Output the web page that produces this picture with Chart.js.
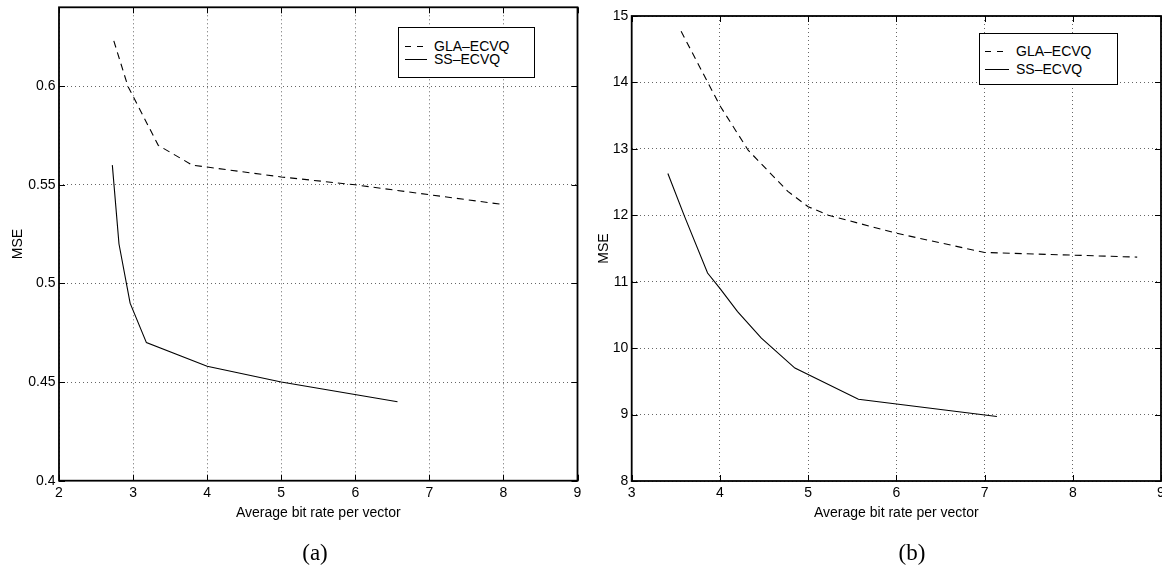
<!DOCTYPE html>
<html>
<head>
<meta charset="utf-8">
<script src="https://cdn.jsdelivr.net/npm/chart.js@4/dist/chart.umd.min.js"></script>
<style>
  body { margin: 0; background: #fff; width: 1162px; height: 568px; overflow: hidden; position: relative; font-family: 'Liberation Sans', Arial, sans-serif; }
  canvas { position: absolute; top: 0; }
  .legend { position: absolute; border: 1.5px solid #000; background: #fff; box-sizing: border-box; font-size: 14px; color: #000; }
  .row { position: absolute; left: 0; right: 0; height: 16px; line-height: 16px; }
  .sample { position: absolute; top: 8px; height: 1px; }
  .dash { background: repeating-linear-gradient(to right, #000 0 6px, transparent 6px 12px); }
  .solid { background: #000; }
  .txt { position: absolute; top: 0; white-space: nowrap; }
  .caption { position: absolute; font-family: 'Liberation Serif', 'DejaVu Serif', serif; font-size: 23px; transform: translate(-50%, -50%); }
</style>
</head>
<body>
<canvas id="chartA" width="590" height="568" style="left:0"></canvas>
<canvas id="chartB" width="582" height="568" style="left:580px"></canvas>

<div class="legend" style="left:398px;top:27px;width:137px;height:51px">
  <div class="row" style="top:10px"><div class="sample dash" style="left:6px;width:22px"></div><span class="txt" style="left:35px">GLA–ECVQ</span></div>
  <div class="row" style="top:23px"><div class="sample solid" style="left:6px;width:22px"></div><span class="txt" style="left:35px">SS–ECVQ</span></div>
</div>
<div class="legend" style="left:979px;top:33px;width:139px;height:52px">
  <div class="row" style="top:9px"><div class="sample dash" style="left:5px;width:24px"></div><span class="txt" style="left:36px">GLA–ECVQ</span></div>
  <div class="row" style="top:27px"><div class="sample solid" style="left:5px;width:24px"></div><span class="txt" style="left:36px">SS–ECVQ</span></div>
</div>

<div class="caption" style="left:315px;top:553px">(a)</div>
<div class="caption" style="left:912px;top:553px">(b)</div>

<script>
// (a) values
const rateA_gla = [2.74, 2.93, 3.34, 3.80, 4.0, 5.0, 6.0, 7.0, 8.0];
const mseA_gla  = [0.623, 0.600, 0.570, 0.560, 0.559, 0.554, 0.550, 0.545, 0.540];
const rateA_ss  = [2.72, 2.81, 2.96, 3.18, 4.0, 5.0, 6.57];
const mseA_ss   = [0.560, 0.520, 0.490, 0.470, 0.458, 0.450, 0.440];
const xTicksA = [2, 3, 4, 5, 6, 7, 8, 9];
const yTicksA = [0.4, 0.45, 0.5, 0.55, 0.6];

// (b) values
const rateB_gla = [3.56, 4.0, 4.32, 4.77, 5.0, 5.23, 6.0, 7.0, 8.0, 8.73];
const mseB_gla  = [14.77, 13.65, 12.98, 12.36, 12.13, 12.0, 11.73, 11.44, 11.40, 11.37];
const rateB_ss  = [3.41, 3.60, 3.86, 4.0, 4.2, 4.47, 4.85, 5.57, 7.14];
const mseB_ss   = [12.63, 11.98, 11.13, 10.90, 10.55, 10.15, 9.70, 9.23, 8.97];
const xTicksB = [3, 4, 5, 6, 7, 8, 9];
const yTicksB = [8, 9, 10, 11, 12, 13, 14, 15];

const FONT = { family: "'Liberation Sans', Arial, sans-serif", size: 14 };

function toPoints(xs, ys) {
  return xs.map((x, i) => ({ x: x, y: ys[i] }));
}

// box around the plot + inward tick marks like matlab
const frame = {
  id: 'frame',
  afterDatasetsDraw(chart) {
    const { ctx, chartArea: a, scales: { x, y } } = chart;
    ctx.save();
    ctx.strokeStyle = '#000';
    ctx.lineWidth = 1;
    ctx.beginPath();
    x.ticks.forEach(t => {
      const p = Math.round(x.getPixelForValue(t.value)) + 0.5;
      ctx.moveTo(p, a.bottom); ctx.lineTo(p, a.bottom - 6);
      ctx.moveTo(p, a.top); ctx.lineTo(p, a.top + 6);
    });
    y.ticks.forEach(t => {
      const p = Math.round(y.getPixelForValue(t.value)) + 0.5;
      ctx.moveTo(a.left, p); ctx.lineTo(a.left + 6, p);
      ctx.moveTo(a.right, p); ctx.lineTo(a.right - 6, p);
    });
    ctx.stroke();
    ctx.lineWidth = 1.8;
    ctx.strokeRect(a.left, a.top, a.right - a.left, a.bottom - a.top);
    ctx.restore();
  }
};

function makeChart(id, c) {
  new Chart(document.getElementById(id), {
    type: 'line',
    data: {
      datasets: [
        { label: 'GLA–ECVQ', data: toPoints(c.glaX, c.glaY), borderColor: '#000', borderWidth: 1.1, borderDash: [7, 5], pointRadius: 0, fill: false, tension: 0 },
        { label: 'SS–ECVQ', data: toPoints(c.ssX, c.ssY), borderColor: '#000', borderWidth: 1.1, pointRadius: 0, fill: false, tension: 0 }
      ]
    },
    options: {
      responsive: false,
      animation: false,
      devicePixelRatio: 1,
      layout: { padding: { top: c.top, right: c.padRight, bottom: 0, left: 0 } },
      plugins: { legend: { display: false }, tooltip: { enabled: false } },
      scales: {
        x: {
          type: 'linear',
          min: c.xTicks[0],
          max: c.xTicks[c.xTicks.length - 1],
          afterBuildTicks: s => { s.ticks = c.xTicks.map(v => ({ value: v })); },
          afterFit: s => { s.paddingLeft = 0; s.paddingRight = 0; s.height = 568 - c.bottom; },
          grid: { color: '#666', lineWidth: 1, drawTicks: false },
          border: { display: false, dash: [1, 3] },
          ticks: { color: '#000', padding: 4, font: FONT, maxRotation: 0, autoSkip: false, callback: v => String(v) },
          title: { display: true, text: 'Average bit rate per vector', color: '#000', font: FONT, padding: { top: 0, bottom: 46.5 } }
        },
        y: {
          type: 'linear',
          min: c.yMin,
          max: c.yMax,
          afterBuildTicks: s => { s.ticks = c.yTicks.map(v => ({ value: v })); },
          afterFit: s => { s.paddingTop = 0; s.paddingBottom = 0; s.width = c.left; },
          grid: { color: '#666', lineWidth: 1, drawTicks: false },
          border: { display: false, dash: [1, 3] },
          ticks: { color: '#000', padding: 3.5, font: FONT, autoSkip: false, callback: v => String(v) },
          title: { display: true, text: 'MSE', color: '#000', font: FONT, padding: { top: c.yTitlePad, bottom: 0 } }
        }
      }
    },
    plugins: [frame]
  });
}

makeChart('chartA', {
  glaX: rateA_gla, glaY: mseA_gla, ssX: rateA_ss, ssY: mseA_ss,
  xTicks: xTicksA, yTicks: yTicksA, yMin: 0.4, yMax: 0.64,
  left: 59, top: 7.3, bottom: 480.7, padRight: 12.5, yTitlePad: 10
});

makeChart('chartB', {
  glaX: rateB_gla, glaY: mseB_gla, ssX: rateB_ss, ssY: mseB_ss,
  xTicks: xTicksB, yTicks: yTicksB, yMin: 8, yMax: 15,
  left: 51.7, top: 16, bottom: 481, padRight: 1, yTitlePad: 15.5
});
</script>
</body>
</html>
